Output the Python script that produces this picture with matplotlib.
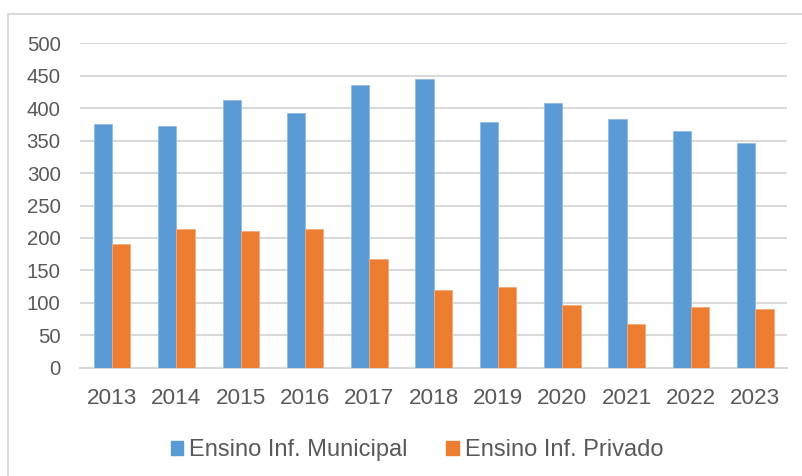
import matplotlib.pyplot as plt
import numpy as np
from matplotlib.patches import Patch, Rectangle

anos = ["2013", "2014", "2015", "2016", "2017", "2018",
        "2019", "2020", "2021", "2022", "2023"]
municipal = [375, 372, 413, 393, 435, 445, 378, 408, 383, 365, 347]
privado = [191, 214, 210, 214, 167, 120, 125, 97, 68, 94, 91]

azul = "#5B9BD5"
laranja = "#ED7D31"
cinza = "#595959"
grade = "#D9D9D9"

plt.rcParams['font.family'] = ['Liberation Sans', 'DejaVu Sans']

fig = plt.figure(figsize=(8.03, 4.76), dpi=100)
ax = fig.add_axes([80 / 803, 1 - 367.7 / 476, 707.5 / 803, 324.4 / 476])

x = np.arange(len(anos))
w = 0.284
ax.bar(x - w / 2, municipal, w, color=azul, edgecolor="#8DBBE6", linewidth=0.6, zorder=3)
ax.bar(x + w / 2, privado, w, color=laranja, edgecolor="#F4A97A", linewidth=0.6, zorder=3)

ax.set_xlim(-0.5, len(anos) - 0.5)
ax.set_ylim(0, 500)
ax.set_yticks(range(0, 501, 50))
ax.set_xticks(x)
ax.set_xticklabels(anos)
ax.yaxis.grid(True, color=grade, linewidth=1.5, zorder=0)
ax.set_axisbelow(True)
for s in ["top", "right", "left"]:
    ax.spines[s].set_visible(False)
ax.spines["bottom"].set_color(grade)
ax.spines["bottom"].set_linewidth(1.5)
ax.tick_params(axis="y", length=0, pad=14, labelsize=14.7, labelcolor=cinza)
ax.tick_params(axis="x", length=0, pad=14.5, labelsize=16.2, labelcolor=cinza)

# legenda
handles = [Patch(color=azul, label="Ensino Inf. Municipal"),
           Patch(color=laranja, label="Ensino Inf. Privado")]
leg = fig.legend(handles=handles, loc="center", bbox_to_anchor=(417 / 803, 1 - 450 / 476),
                 ncol=2, frameon=False, fontsize=17, handlelength=0.53, handleheight=0.53,
                 handletextpad=0.25, columnspacing=1.65)
for t in leg.get_texts():
    t.set_color(cinza)

# moldura do grafico
fig.patches.append(Rectangle((8 / 803, -0.1), 1.1, 1 - 14 / 476 + 0.1,
                             transform=fig.transFigure, fill=False,
                             edgecolor=grade, linewidth=1.5))

fig.savefig("out.png", dpi=100)
